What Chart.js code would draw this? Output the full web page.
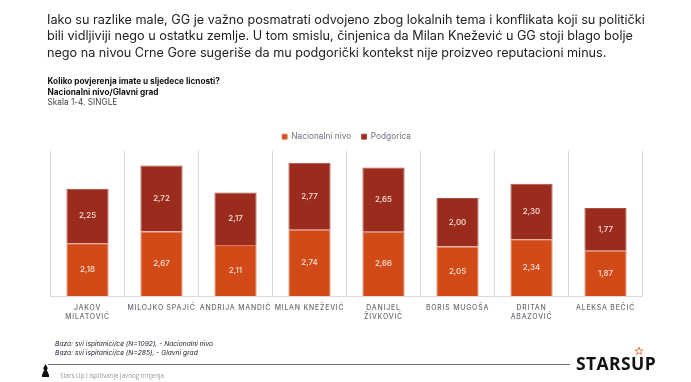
<!DOCTYPE html>
<html>
<head>
<meta charset="utf-8">
<script src="https://cdn.jsdelivr.net/npm/chart.js@4"></script>
<style>
  html, body { margin: 0; padding: 0; background: #fff; width: 691px; height: 382px; overflow: hidden; }
  #myChart { position: absolute; left: 0; top: 0; }
  .txt { position: absolute; white-space: nowrap; font-family: Inter, sans-serif; color: #222; }
  #intro { left: 47px; top: 12px; font-size: 12.65px; line-height: 16.4px; }
  #question { left: 47.5px; top: 76px; font-size: 8.25px; line-height: 10.5px; color: #111; }
  #question b { font-weight: 700; }
  #question span { color: #444; }
  #base { left: 55px; top: 340px; font-size: 6.7px; line-height: 9px; font-style: italic; color: #223; }
  #rule { position: absolute; left: 48px; top: 364px; width: 522px; height: 1px; background: #777; }
  #footer { left: 60px; top: 371px; font-size: 6.2px; color: #999; font-family: "Open Sans", sans-serif; }
  #logo { left: 576px; top: 353px; font-size: 17.5px; font-weight: 700; letter-spacing: 0.4px; color: #111; font-family: "Open Sans", sans-serif; line-height: 20px; }
  #star { position: absolute; left: 635px; top: 347px; }
  #pen { position: absolute; left: 42px; top: 364px; }
</style>
</head>
<body>
<canvas id="myChart" width="691" height="382"></canvas>
<div class="txt" id="intro">Iako su razlike male, GG je važno posmatrati odvojeno zbog lokalnih tema i konflikata koji su politički<br>bili vidljiviji nego u ostatku zemlje. U tom smislu, činjenica da Milan Knežević u GG stoji blago bolje<br>nego na nivou Crne Gore sugeriše da mu podgorički kontekst nije proizveo reputacioni minus.</div>
<div class="txt" id="question"><b>Koliko povjerenja imate u sljedece licnosti?</b><br><b>Nacionalni nivo/Glavni grad</b><br><span>Skala 1-4. SINGLE</span></div>
<div class="txt" id="base">Baza: svi ispitanici/ce (N=1092),  - Nacionalni nivo<br>Baza: svi ispitanici/ce (N=285),  - Glavni grad</div>
<div id="rule"></div>
<svg id="pen" width="7" height="13" viewBox="0 0 8 13" preserveAspectRatio="none"><path d="M4 0 L6.5 4 L5.5 7 L7 8 L7 10 L8 10 L8 13 L0 13 L0 10 L1 10 L1 8 L2.5 7 L1.5 4 Z" fill="#111"/></svg>
<div class="txt" id="footer">Stars Up I Ispitivanje javnog mnjenja</div>
<div class="txt" id="logo">STARSUP</div>
<svg id="star" width="8" height="8" viewBox="0 0 10 10"><path d="M5 0 L6.2 3.6 L10 3.6 L7 5.9 L8.1 9.5 L5 7.3 L1.9 9.5 L3 5.9 L0 3.6 L3.8 3.6 Z" fill="none" stroke="#ef7b45" stroke-width="1.2"/></svg>
<script>
// tick labels and values
var categories = [
  ['JAKOV', 'MILATOVIĆ'],
  'MILOJKO SPAJIĆ',
  'ANDRIJA MANDIĆ',
  'MILAN KNEŽEVIĆ',
  ['DANIJEL', 'ŽIVKOVIĆ'],
  'BORIS MUGOŠA',
  ['DRITAN', 'ABAZOVIĆ'],
  'ALEKSA BEČIĆ'
];
var nacionalni = [2.18, 2.67, 2.11, 2.74, 2.66, 2.05, 2.34, 1.87];
var podgorica = [2.25, 2.72, 2.17, 2.77, 2.65, 2.00, 2.30, 1.77];

// no datalabels plugin here, so write the values by hand
var valueLabels = {
  id: 'valueLabels',
  afterDatasetsDraw: function(chart) {
    var ctx = chart.ctx;
    ctx.save();
    ctx.font = '500 8px Inter, sans-serif';
    ctx.fillStyle = '#f6e2da';
    ctx.textAlign = 'center';
    ctx.textBaseline = 'middle';
    chart.data.datasets.forEach(function(ds, i) {
      chart.getDatasetMeta(i).data.forEach(function(bar, j) {
        var p = bar.getCenterPoint();
        ctx.fillText(ds.data[j].toFixed(2).replace('.', ','), p.x, p.y);
      });
    });
    ctx.restore();
  }
};

var ctx = document.getElementById('myChart').getContext('2d');
var chart = new Chart(ctx, {
  type: 'bar',
  data: {
    labels: categories,
    datasets: [{
      label: 'Nacionalni nivo',
      data: nacionalni,
      backgroundColor: '#d14a17',
      borderColor: '#dd7a58',
      borderWidth: 1,
      categoryPercentage: 1,
      barPercentage: 0.57
    }, {
      label: 'Podgorica',
      data: podgorica,
      backgroundColor: '#9b2c1d',
      borderColor: '#ab4d40',
      borderWidth: 1,
      categoryPercentage: 1,
      barPercentage: 0.57
    }]
  },
  options: {
    responsive: false,
    animation: false,
    layout: { padding: { left: 50.5, right: 48.5, top: 122, bottom: 56 } },
    plugins: {
      legend: {
        position: 'top',
        labels: {
          boxWidth: 5,
          boxHeight: 5,
          padding: 10.5,
          color: '#6d7280',
          font: { family: 'Inter, sans-serif', size: 8.3 }
        }
      },
      tooltip: { enabled: false }
    },
    scales: {
      x: {
        stacked: true,
        afterFit: function(scale) { scale.height = 30; },
        grid: { color: '#d9d9d9', offset: true, drawTicks: false, lineWidth: 1 },
        border: { color: '#d9d9d9' },
        ticks: {
          autoSkip: false,
          maxRotation: 0,
          minRotation: 0,
          padding: 7,
          color: '#6b6b73',
          font: { family: 'Inter, sans-serif', size: 6.9, weight: '500', lineHeight: 1.3 }
        }
      },
      y: { stacked: true, display: false, min: 0, max: 6 }
    }
  },
  plugins: [valueLabels, {
    // tick labels are tracked out in the original, the legend is not
    id: 'tickTracking',
    beforeDraw: function(c) {
      if (!c.legend._wrapped) {
        var draw = c.legend.draw;
        c.legend.draw = function() {
          var was = c.ctx.letterSpacing;
          c.ctx.letterSpacing = '0px';
          draw.apply(this, arguments);
          c.ctx.letterSpacing = was;
        };
        c.legend._wrapped = true;
      }
      c.ctx.letterSpacing = '0.8px';
    },
    beforeDatasetsDraw: function(c) { c.ctx.letterSpacing = '0px'; }
  }]
});
</script>
</body>
</html>
